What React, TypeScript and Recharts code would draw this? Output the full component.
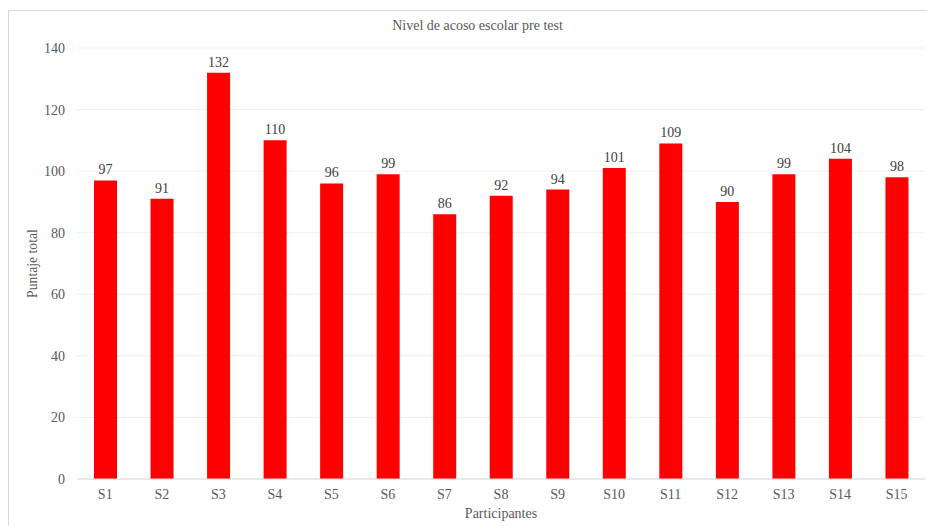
import React from 'react';
import { BarChart, Bar, XAxis, YAxis, CartesianGrid, LabelList } from 'recharts';

const participants = ['S1', 'S2', 'S3', 'S4', 'S5', 'S6', 'S7', 'S8', 'S9', 'S10', 'S11', 'S12', 'S13', 'S14', 'S15'];
const scores = [97, 91, 132, 110, 96, 99, 86, 92, 94, 101, 109, 90, 99, 104, 98];
const yTicks = [0, 20, 40, 60, 80, 100, 120, 140];

const data = participants.map((name, i) => ({ name, total: scores[i] }));

const font = '"Liberation Serif", "Times New Roman", serif';

export default function App() {
  return (
    <div
      style={{
        position: 'absolute',
        left: 8,
        top: 10,
        width: 919,
        height: 516,
        borderLeft: '1px solid #d9d9d9',
        borderTop: '1px solid #d9d9d9',
        background: '#fff',
        fontFamily: font,
        overflow: 'hidden',
      }}
    >
      <div
        style={{
          position: 'absolute',
          top: 7,
          left: 0,
          width: 937,
          textAlign: 'center',
          fontSize: 14,
          color: '#595959',
        }}
      >
        Nivel de acoso escolar pre test
      </div>
      <BarChart
        width={919}
        height={516}
        data={data}
        margin={{ top: 37, right: 3, bottom: 18, left: 0 }}
        barCategoryGap={0}
      >
        <CartesianGrid vertical={false} stroke="#efefef" strokeWidth={1} />
        <XAxis
          dataKey="name"
          height={30}
          tickLine={false}
          tickSize={0}
          tickMargin={10}
          axisLine={{ stroke: '#d9d9d9' }}
          tick={{ fill: '#595959', fontSize: 14, fontFamily: font }}
          interval={0}
          label={{
            content: ({ viewBox }: any) => (
              <text
                x={viewBox.x + viewBox.width / 2}
                y={viewBox.y + 39}
                textAnchor="middle"
                fill="#595959"
                fontSize={14}
                fontFamily={font}
              >
                Participantes
              </text>
            ),
          }}
        />
        <YAxis
          width={68}
          domain={[0, 140]}
          ticks={yTicks}
          tickLine={false}
          axisLine={false}
          tickSize={0}
          tickMargin={12}
          tick={{ fill: '#595959', fontSize: 14, fontFamily: font }}
          label={{
            content: ({ viewBox }: any) => {
              const cx = 23;
              const cy = viewBox.y + viewBox.height / 2;
              return (
                <text
                  x={cx}
                  y={cy}
                  transform={`rotate(-90 ${cx} ${cy})`}
                  textAnchor="middle"
                  dominantBaseline="central"
                  fill="#595959"
                  fontSize={13.7}
                  fontFamily={font}
                >
                  Puntaje total
                </text>
              );
            },
          }}
        />
        <Bar dataKey="total" fill="#ff0000" barSize={23} isAnimationActive={false}>
          <LabelList
            dataKey="total"
            position="top"
            offset={6}
            fill="#404040"
            fontSize={14}
            fontFamily={font}
          />
        </Bar>
      </BarChart>
    </div>
  );
}
